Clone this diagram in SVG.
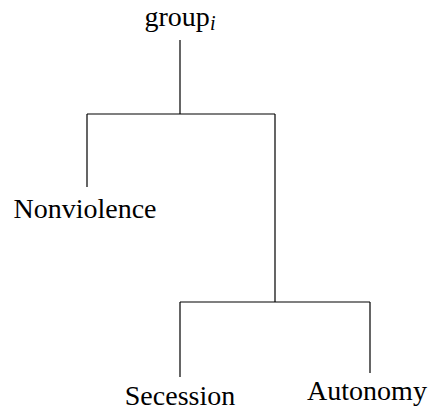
<svg xmlns="http://www.w3.org/2000/svg" width="431" height="412" viewBox="0 0 431 412">
<style>
text{font-family:'Liberation Serif','Times New Roman',serif;font-size:28px;fill:#000;text-anchor:middle}
.e{stroke:#000;stroke-width:1.2;fill:none}
</style>
<rect width="431" height="412" fill="#fff"/>
<g id="connectors">
<path class="e" d="M180,40V114M87,114H275M87,114V187M275,114V302M180,302H370M180,302V377M370,302V373"/>
</g>
<g id="root"><text x="180" y="26">group<tspan font-style="italic" font-size="20" dy="4">i</tspan></text></g>
<g id="nonviolence"><text x="85" y="218">Nonviolence</text></g>
<g id="secession"><text x="180" y="405">Secession</text></g>
<g id="autonomy"><text x="367" y="400">Autonomy</text></g>
</svg>
